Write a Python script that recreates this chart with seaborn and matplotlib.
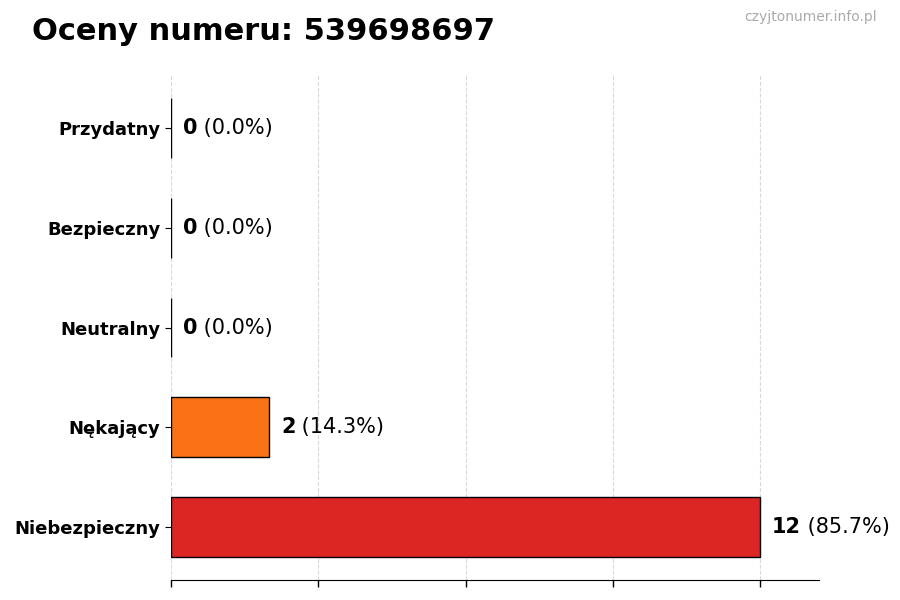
import numpy as np
import pandas as pd
import seaborn as sns
import matplotlib.pyplot as plt

# dane z wykresu
kategorie = ['Przydatny', 'Bezpieczny', 'Neutralny', 'Nękający', 'Niebezpieczny']
liczby = [0, 0, 0, 2, 12]
procenty = [0.0, 0.0, 0.0, 14.3, 85.7]
kolory = ['#16a34a', '#22c55e', '#9ca3af', '#f97316', '#dc2626']
numer = '539698697'

df = pd.DataFrame({'kategoria': kategorie, 'liczba': liczby})

sns.set_style('white')
plt.rcParams['font.family'] = ['DejaVu Sans']
plt.rcParams['text.color'] = 'black'
plt.rcParams['xtick.color'] = 'black'
plt.rcParams['ytick.color'] = 'black'

fig = plt.figure(figsize=(9, 6), dpi=100)
ax = fig.add_axes([0.19, 0.0333, 0.72, 0.8417])

sns.barplot(data=df, x='liczba', y='kategoria', hue='kategoria', palette=kolory,
            orient='h', width=0.6, edgecolor='black', linewidth=1, saturation=1,
            legend=False, ax=ax)

ax.set_xlim(0, max(liczby) * 1.1)
ax.set_ylim(4.53, -0.53)
ax.set_xticks(np.arange(0, 13, 3))
ax.set_xticklabels([])
ax.tick_params(axis='x', length=5, width=1, color='black', bottom=True)
ax.tick_params(axis='y', length=4, width=0.8, left=True, labelsize=13)
for lbl in ax.get_yticklabels():
    lbl.set_fontweight('bold')
ax.set_xlabel('')
ax.set_ylabel('')
ax.grid(axis='x', linestyle='--', color='#d9d9d9', linewidth=0.8)
ax.set_axisbelow(True)
for s in ['top', 'right', 'left']:
    ax.spines[s].set_visible(False)
ax.spines['bottom'].set_color('black')

# etykiety wartości
off = 0.24
for i, (n, p) in enumerate(zip(liczby, procenty)):
    t = ax.text(n + off, i, str(n), fontsize=15, fontweight='bold', va='center', ha='left')
    ax.annotate(f' ({p:.1f}%)', xycoords=t, xy=(1, 0.5), va='center', ha='left',
                fontsize=15)

fig.text(0.036, 0.948, f'Oceny numeru: {numer}', fontsize=22, fontweight='bold',
         va='center', ha='left')
fig.text(0.974, 0.971, 'czyjtonumer.info.pl', fontsize=10, color='#aaaaaa',
         va='center', ha='right')

fig.savefig('out.png', dpi=100)
